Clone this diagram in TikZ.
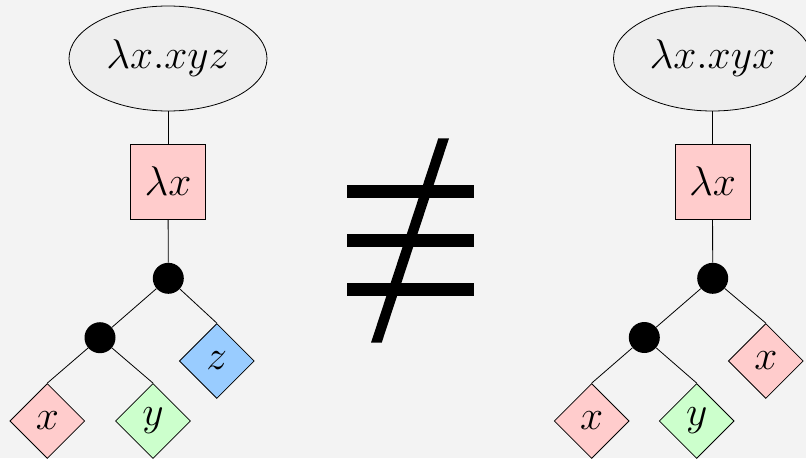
\RequirePackage{fix-cm}
\documentclass[tikz,border=0pt]{standalone}
\usetikzlibrary{shapes.geometric}
\definecolor{bgc}{RGB}{243,243,243}
\definecolor{ellc}{RGB}{238,238,238}
\definecolor{pinkc}{RGB}{255,204,204}
\definecolor{greenc}{RGB}{204,255,204}
\definecolor{bluec}{RGB}{153,204,255}
\tikzset{
  big/.style={font=\fontsize{41.5}{50}\selectfont},
  term/.style={ellipse, draw, fill=ellc, line width=0.8pt, minimum width=198pt, minimum height=105pt, inner sep=0pt, big},
  lam/.style={rectangle, draw, fill=pinkc, line width=0.8pt, minimum size=75pt, inner sep=0pt, big},
  app/.style={circle, fill=black, minimum size=31pt, inner sep=0pt},
  leaf/.style={diamond, draw, line width=0.8pt, minimum size=75pt, inner sep=0pt, big},
  edge/.style={line width=0.8pt},
  glyph/.style={fill=black}
}
\begin{document}
\begin{tikzpicture}[x=1pt,y=-1pt]
\useasboundingbox (0,0) rectangle (806,458);
\fill[bgc] (0,0) rectangle (806,458);
\clip (0,0) rectangle (806,458);
% left tree
\node[term] (e1) at (168,58.5) {$\lambda x.xyz$};
\node[lam] (l1) at (168,181.5) {$\lambda x$};
\node[app] (a1) at (168.3,278.3) {};
\node[app] (b1) at (100,337.7) {};
\node[leaf, fill=bluec] (z1) at (216.8,361) {$z$};
\node[leaf, fill=pinkc] (x1) at (47.3,421) {$x$};
\node[leaf, fill=greenc] (y1) at (153,421) {$y$};
\draw[edge] (e1) -- (l1);
\draw[edge] (l1) -- (a1);
\draw[edge] (a1) -- (b1);
\draw[edge] (a1) -- (z1.north);
\draw[edge] (b1) -- (x1.north);
\draw[edge] (b1) -- (y1.north);
% right tree
\node[term] (e2) at (712.5,58.5) {$\lambda x.xyx$};
\node[lam] (l2) at (712.5,181.5) {$\lambda x$};
\node[app] (a2) at (712.7,278.3) {};
\node[app] (b2) at (644.3,337.5) {};
\node[leaf, fill=pinkc] (x3) at (765.8,361) {$x$};
\node[leaf, fill=pinkc] (x2) at (591.7,421) {$x$};
\node[leaf, fill=greenc] (y2) at (696.7,421) {$y$};
\draw[edge] (e2) -- (l2);
\draw[edge] (l2) -- (a2);
\draw[edge] (a2) -- (b2);
\draw[edge] (a2) -- (x3.north);
\draw[edge] (b2) -- (x2.north);
\draw[edge] (b2) -- (y2.north);
% not-equivalent sign
\fill[glyph] (346.7,185) rectangle (474,198.3);
\fill[glyph] (346.7,234.3) rectangle (474,247.3);
\fill[glyph] (346.7,283.3) rectangle (474,296.3);
\fill[glyph] (438.3,138.3) -- (449,138.3) -- (381.7,342.7) -- (371,342.7) -- cycle;
\end{tikzpicture}
\end{document}
